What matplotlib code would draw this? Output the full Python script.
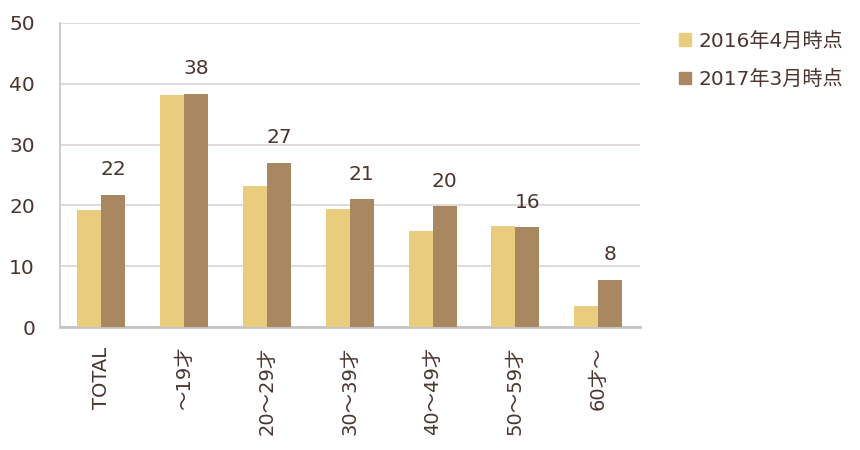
import numpy as np
import matplotlib
matplotlib.use("Agg")
from matplotlib import pyplot as plt
from matplotlib.patches import Patch

plt.rcParams['font.family'] = ['DejaVu Sans', 'Noto Sans CJK JP']

categories = ["TOTAL", "～19才", "20～29才", "30～39才", "40～49才", "50～59才", "60才～"]
apr_2016 = [19.3, 38.2, 23.2, 19.4, 15.8, 16.6, 3.5]
mar_2017 = [21.8, 38.4, 27.0, 21.0, 19.9, 16.4, 7.8]
labels_2017 = ["22", "38", "27", "21", "20", "16", "8"]
series_names = ["2016年4月時点", "2017年3月時点"]

c16 = "#E9CC7E"
c17 = "#A88761"
text_color = "#4A3530"

fig = plt.figure(figsize=(8.6, 4.5), dpi=100)
ax = fig.add_axes([0.0698, 0.273, 0.674, 0.676])

x = np.arange(len(categories))
w = 0.29
ax.bar(x - w / 2, apr_2016, width=w, color=c16, zorder=3)
ax.bar(x + w / 2, mar_2017, width=w, color=c17, zorder=3)

# value labels above the 2017 bars
for xi, v, lab in zip(x, mar_2017, labels_2017):
    ax.annotate(lab, (xi + w / 2, v), xytext=(0, 25), textcoords="offset pixels",
                ha="center", va="center", fontsize=14.5, color=text_color)

ax.set_xlim(-0.5, len(categories) - 0.5)
ax.set_ylim(0, 50)
ax.set_yticks([0, 10, 20, 30, 40, 50])
ax.yaxis.grid(True, color="#DAD3D3", linewidth=1.2, zorder=0)
ax.set_axisbelow(True)

ax.set_xticks(x)
ax.set_xticklabels(categories, rotation=90, fontsize=14, color=text_color)
ax.tick_params(axis="x", length=0, pad=14)
ax.tick_params(axis="y", length=0, pad=18, labelsize=14.5, labelcolor=text_color)

for s in ["top", "right"]:
    ax.spines[s].set_visible(False)
for s in ["left", "bottom"]:
    ax.spines[s].set_color("#C4C4C4")
ax.spines["bottom"].set_linewidth(2)
ax.spines["left"].set_linewidth(1.2)

handles = [Patch(color=c16), Patch(color=c17)]
leg = fig.legend(handles, series_names, loc="upper left", bbox_to_anchor=(0.768, 0.97),
                 frameon=False, fontsize=14.5, handlelength=0.6, handleheight=0.6,
                 handletextpad=0.4, labelspacing=0.95)
for t in leg.get_texts():
    t.set_color(text_color)

fig.savefig("out.png", dpi=100)
